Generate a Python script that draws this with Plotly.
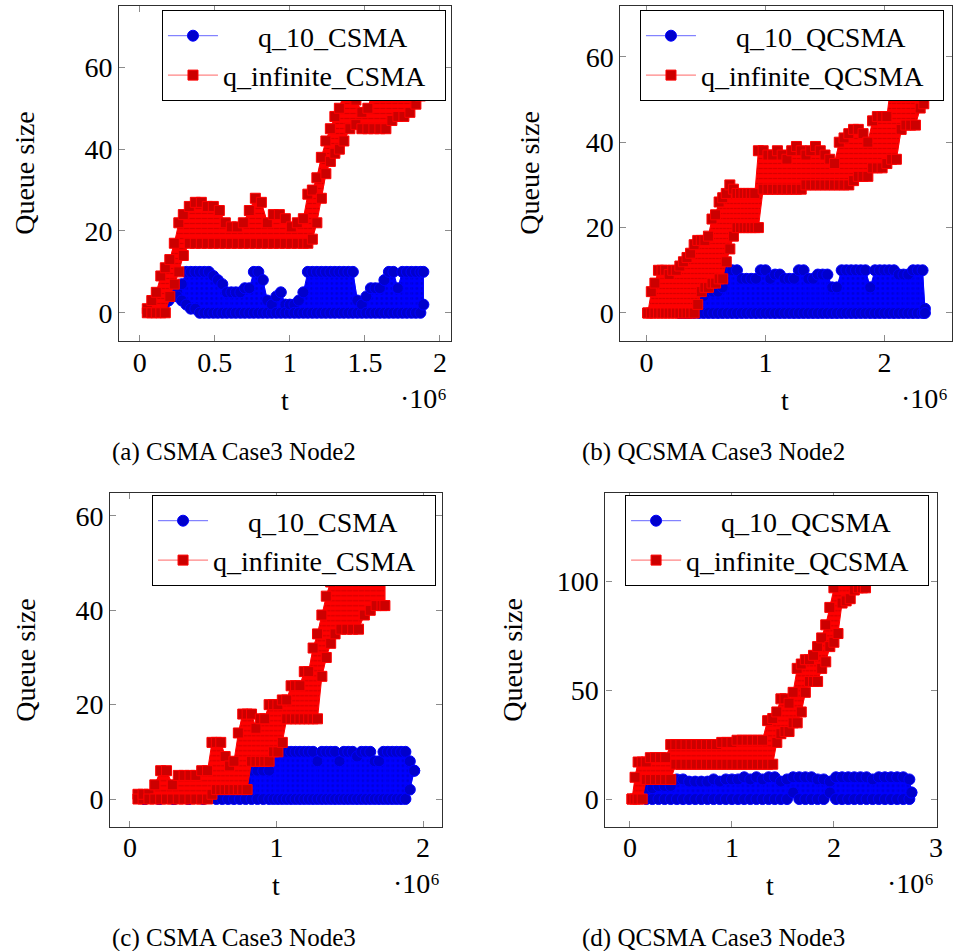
import plotly.graph_objects as go

# ---------------- data (t in units of 10^6) ----------------
# (a) CSMA Case3 Node2
a_red_t = [0.05, 0.08, 0.11, 0.14, 0.17, 0.20, 0.23, 0.26, 0.29, 0.33,
           0.37, 0.41, 0.45, 0.49, 0.53, 0.57, 0.61, 0.65, 0.69, 0.73,
           0.77, 0.81, 0.85, 0.89, 0.93, 0.97, 1.01, 1.05, 1.09, 1.12,
           1.15, 1.18, 1.21, 1.24, 1.27, 1.30, 1.33, 1.36, 1.40, 1.44,
           1.48, 1.52, 1.56, 1.60, 1.64, 1.68, 1.72, 1.76, 1.80, 1.84,
           1.87]
a_red_hi = [1, 3, 5, 9, 11, 13, 17, 22, 24, 26,
            27, 27, 26, 26, 25, 22, 21, 21, 22, 25,
            28, 27, 22, 24, 24, 23, 21, 22, 23, 29,
            30, 33, 38, 42, 45, 48, 50, 54, 55, 52,
            49, 50, 55, 57, 58, 60, 62, 63, 65, 67,
            68]
a_red_lo = [0, 0, 0, 0, 0, 4, 7, 10, 14, 17,
            17, 17, 17, 17, 17, 17, 17, 17, 17, 17,
            17, 17, 17, 17, 17, 17, 17, 17, 17, 17,
            18, 22, 28, 34, 37, 39, 40, 42, 45, 46,
            45, 45, 45, 45, 45, 47, 48, 48, 49, 51,
            53]
a_blue_t = [0.13, 0.16, 0.19, 0.22, 0.25, 0.28, 0.31, 0.34, 0.37, 0.40,
            0.43, 0.46, 0.49, 0.52, 0.55, 0.58, 0.61, 0.64, 0.67, 0.70,
            0.73, 0.76, 0.79, 0.82, 0.85, 0.88, 0.91, 0.94, 0.97, 1.00,
            1.03, 1.06, 1.09, 1.12, 1.15, 1.18, 1.21, 1.24, 1.27, 1.30,
            1.33, 1.36, 1.39, 1.42, 1.45, 1.48, 1.51, 1.54, 1.57, 1.60,
            1.63, 1.66, 1.69, 1.72, 1.75, 1.78, 1.81, 1.84, 1.87, 1.89]
a_blue_hi = [1, 2, 3, 4, 5, 7, 10, 10, 10, 10,
             10, 10, 9, 8, 7, 5, 5, 5, 5, 6,
             6, 10, 10, 8, 3, 2, 4, 5, 2, 2,
             2, 3, 5, 10, 10, 10, 10, 10, 10, 10,
             10, 10, 10, 10, 3, 2, 4, 6, 6, 6,
             8, 10, 10, 6, 10, 10, 10, 10, 10, 10]
a_blue_lo = [1, 2, 3, 4, 4, 3, 2, 1, 1, 0,
             0, 0, 0, 0, 0, 0, 0, 0, 0, 0,
             0, 0, 0, 0, 0, 0, 0, 0, 0, 0,
             0, 0, 0, 0, 0, 0, 0, 0, 0, 0,
             0, 0, 0, 0, 0, 0, 0, 0, 0, 0,
             0, 0, 0, 0, 0, 0, 0, 0, 0, 2]

# (b) QCSMA Case3 Node2
b_red_t = [0.01, 0.04, 0.07, 0.10, 0.13, 0.16, 0.19, 0.22, 0.25, 0.28,
           0.31, 0.34, 0.37, 0.40, 0.43, 0.46, 0.49, 0.52, 0.55, 0.58,
           0.61, 0.64, 0.67, 0.70, 0.73, 0.76, 0.79, 0.82, 0.85, 0.88,
           0.91, 0.94, 0.98, 1.02, 1.06, 1.10, 1.14, 1.18, 1.22, 1.26,
           1.30, 1.34, 1.38, 1.42, 1.46, 1.50, 1.54, 1.58, 1.62, 1.66,
           1.70, 1.74, 1.78, 1.82, 1.86, 1.90, 1.94, 1.98, 2.02, 2.06,
           2.10, 2.14, 2.18, 2.22, 2.26, 2.30, 2.33]
b_red_hi = [0, 5, 7, 10, 10, 10, 9, 10, 10, 11,
            12, 13, 14, 16, 17, 17, 17, 18, 22, 23,
            26, 27, 28, 30, 29, 28, 28, 28, 28, 28,
            28, 38, 38, 37, 37, 38, 37, 36, 38, 39,
            38, 37, 38, 39, 38, 37, 36, 35, 40, 41,
            42, 43, 43, 42, 40, 45, 46, 46, 46, 55,
            56, 58, 60, 62, 63, 64, 65]
b_red_lo = [0, 0, 0, 0, 0, 0, 0, 0, 0, 0,
            0, 0, 0, 0, 2, 5, 6, 6, 7, 7,
            8, 8, 12, 15, 18, 20, 20, 20, 20, 20,
            20, 20, 29, 29, 29, 29, 29, 29, 29, 29,
            29, 30, 30, 30, 30, 30, 30, 30, 30, 30,
            30, 31, 32, 32, 32, 34, 34, 34, 35, 36,
            36, 43, 44, 44, 44, 48, 49]
b_blue_t = [0.28, 0.32, 0.36, 0.40, 0.44, 0.48, 0.52, 0.56, 0.60, 0.64,
            0.68, 0.72, 0.76, 0.80, 0.84, 0.88, 0.92, 0.96, 1.00, 1.04,
            1.08, 1.12, 1.16, 1.20, 1.24, 1.28, 1.32, 1.36, 1.40, 1.44,
            1.48, 1.52, 1.56, 1.60, 1.64, 1.68, 1.72, 1.76, 1.80, 1.84,
            1.88, 1.92, 1.96, 2.00, 2.04, 2.08, 2.12, 2.16, 2.20, 2.24,
            2.28, 2.32, 2.34]
b_blue_hi = [0, 0, 0, 1, 1, 4, 5, 5, 5, 6,
             10, 10, 10, 8, 8, 8, 8, 10, 10, 8,
             9, 9, 8, 8, 8, 10, 10, 8, 8, 9,
             9, 9, 6, 6, 10, 10, 10, 10, 10, 10,
             6, 10, 10, 10, 10, 10, 9, 9, 9, 10,
             10, 10, 1]
b_blue_lo = [0, 0, 0, 0, 0, 0, 0, 0, 0, 0,
             0, 0, 0, 0, 0, 0, 0, 0, 0, 0,
             0, 0, 0, 0, 0, 0, 0, 0, 0, 0,
             0, 0, 0, 0, 0, 0, 0, 0, 0, 0,
             0, 0, 0, 0, 0, 0, 0, 0, 0, 0,
             0, 0, 0]

# (c) CSMA Case3 Node3
c_red_t = [0.055, 0.09, 0.13, 0.17, 0.21, 0.25, 0.29, 0.33, 0.37, 0.41,
           0.45, 0.49, 0.53, 0.56, 0.59, 0.62, 0.65, 0.68, 0.71, 0.74,
           0.77, 0.80, 0.83, 0.86, 0.89, 0.92, 0.95, 0.98, 1.01, 1.04,
           1.07, 1.10, 1.13, 1.16, 1.19, 1.22, 1.25, 1.28, 1.31, 1.34,
           1.37, 1.40, 1.44, 1.48, 1.52, 1.56, 1.60, 1.64, 1.68, 1.72,
           1.74]
c_red_hi = [1, 1, 1, 3, 6, 6, 3, 5, 5, 5,
            5, 6, 6, 12, 12, 12, 9, 7, 8, 14,
            18, 18, 18, 15, 17, 17, 20, 20, 20, 21,
            21, 24, 24, 24, 27, 27, 32, 35, 39, 43,
            46, 50, 54, 55, 56, 57, 58, 58, 59, 59,
            59]
c_red_lo = [0, 0, 0, 0, 0, 0, 0, 0, 0, 0,
            0, 0, 0, 1, 2, 2, 2, 2, 2, 2,
            2, 2, 8, 8, 8, 8, 8, 10, 10, 12,
            17, 17, 17, 17, 17, 17, 17, 17, 26, 30,
            33, 35, 36, 36, 36, 36, 39, 40, 41, 41,
            41]
c_blue_t = [0.10, 0.20, 0.30, 0.40, 0.50, 0.59, 0.63, 0.67, 0.71, 0.75,
            0.79, 0.83, 0.87, 0.91, 0.95, 0.98, 1.01, 1.04, 1.07, 1.10,
            1.13, 1.16, 1.19, 1.22, 1.25, 1.28, 1.31, 1.34, 1.37, 1.40,
            1.43, 1.46, 1.49, 1.52, 1.55, 1.58, 1.61, 1.64, 1.67, 1.70,
            1.73, 1.76, 1.79, 1.82, 1.85, 1.88, 1.91, 1.94]
c_blue_hi = [0, 0, 0, 0, 1, 2, 2, 2, 3, 3,
             4, 6, 6, 6, 6, 10, 10, 10, 10, 10,
             10, 10, 10, 10, 10, 8, 10, 10, 10, 10,
             8, 10, 10, 10, 9, 10, 10, 10, 8, 8,
             10, 10, 10, 10, 10, 10, 8, 6]
c_blue_lo = [0, 0, 0, 0, 0, 0, 0, 0, 0, 0,
             0, 0, 0, 0, 0, 0, 0, 0, 0, 0,
             0, 0, 0, 0, 0, 0, 0, 0, 0, 0,
             0, 0, 0, 0, 0, 0, 0, 0, 0, 0,
             0, 0, 0, 0, 0, 0, 2, 6]

# (d) QCSMA Case3 Node3
d_red_t = [0.02, 0.05, 0.08, 0.12, 0.16, 0.20, 0.25, 0.30, 0.35, 0.40,
           0.45, 0.50, 0.55, 0.60, 0.65, 0.70, 0.75, 0.80, 0.85, 0.90,
           0.95, 1.00, 1.05, 1.10, 1.15, 1.20, 1.25, 1.30, 1.35, 1.40,
           1.44, 1.48, 1.52, 1.56, 1.60, 1.64, 1.68, 1.72, 1.76, 1.80,
           1.84, 1.88, 1.92, 1.96, 2.00, 2.04, 2.08, 2.12, 2.16, 2.20,
           2.24, 2.28, 2.31]
d_red_hi = [0, 10, 17, 17, 17, 19, 19, 19, 19, 25,
            25, 25, 25, 25, 25, 25, 25, 25, 25, 26,
            26, 26, 27, 27, 27, 27, 27, 27, 36, 37,
            40, 46, 46, 44, 49, 60, 62, 64, 64, 66,
            70, 74, 80, 88, 97, 104, 110, 115, 118, 122,
            125, 127, 128]
d_red_lo = [0, 0, 0, 0, 9, 9, 9, 9, 9, 9,
            16, 16, 16, 16, 16, 16, 16, 16, 16, 16,
            16, 16, 16, 16, 16, 16, 16, 16, 16, 16,
            26, 30, 31, 31, 35, 35, 40, 49, 54, 54,
            54, 60, 63, 70, 72, 76, 90, 91, 92, 96,
            97, 97, 97]
d_blue_t = [0.16, 0.22, 0.28, 0.34, 0.40, 0.46, 0.52, 0.58, 0.64, 0.70,
            0.76, 0.82, 0.88, 0.94, 1.00, 1.06, 1.12, 1.18, 1.24, 1.30,
            1.36, 1.42, 1.48, 1.54, 1.60, 1.66, 1.72, 1.78, 1.84, 1.90,
            1.96, 2.02, 2.08, 2.14, 2.20, 2.26, 2.32, 2.38, 2.44, 2.50,
            2.56, 2.62, 2.68, 2.74, 2.76]
d_blue_hi = [5, 5, 6, 6, 6, 9, 9, 8, 8, 8,
             8, 9, 8, 9, 9, 9, 10, 9, 10, 9,
             10, 10, 8, 9, 10, 10, 10, 10, 9, 9,
             8, 10, 10, 10, 10, 10, 10, 9, 10, 10,
             10, 10, 10, 9, 3]
d_blue_lo = [0, 0, 0, 0, 0, 0, 0, 0, 0, 0,
             0, 0, 0, 0, 0, 0, 0, 0, 0, 0,
             0, 0, 0, 0, 3, 0, 0, 0, 0, 0,
             3, 0, 0, 0, 0, 0, 0, 0, 0, 0,
             0, 0, 0, 0, 3]

# axis ticks / labels
a_xticks = [0, 0.5, 1, 1.5, 2]
a_xticktext = ["0", "0.5", "1", "1.5", "2"]
b_xticks = [0, 1, 2]
c_xticks = [0, 1, 2]
d_xticks = [0, 1, 2, 3]
abc_yticks = [0, 20, 40, 60]
d_yticks = [0, 50, 100]

captions = ["(a) CSMA Case3 Node2", "(b) QCSMA Case3 Node2",
            "(c) CSMA Case3 Node3", "(d) QCSMA Case3 Node3"]
names_csma = ["q_10_CSMA", "q_infinite_CSMA"]
names_qcsma = ["q_10_QCSMA", "q_infinite_QCSMA"]
scale_label = "\u00b710\u2076"

# ---------------- styling ----------------
W, H = 959, 951
FONT = "Liberation Serif, Times New Roman, serif"
FS = 28
NB = "\u00a0"

BLUE = "#0000ff"
BLUE_MARK = "#0000cc"
RED = "#ff0000"
RED_MARK = "#cc0000"

fig = go.Figure()


def add_series(t, lo, hi, name, color, mfill, symbol, size, xa, ya, legend, pat_fg, pat_shape):
    tl = list(t)
    fig.add_trace(go.Scatter(
        x=tl + tl[::-1], y=list(hi) + list(lo)[::-1],
        fill="toself", fillcolor=color, mode="lines",
        line=dict(color=color, width=1),
        fillpattern=dict(shape=pat_shape, fgcolor=pat_fg, bgcolor=color,
                         size=5, solidity=0.25),
        hoverinfo="skip", showlegend=False, xaxis=xa, yaxis=ya))
    xs, ys = [], []
    for i, (tt, l, h) in enumerate(zip(t, lo, hi)):
        xs += [tt, tt]
        ys += ([h, l] if i % 2 == 0 else [l, h])
    lc = "rgba(255,0,0,0.6)" if color == RED else "rgba(0,0,255,0.6)"
    fig.add_trace(go.Scatter(
        x=xs, y=ys, mode="lines+markers", name=name,
        line=dict(color=lc, width=1),
        marker=dict(symbol=symbol, size=size, color=mfill,
                    line=dict(color=color, width=1)),
        xaxis=xa, yaxis=ya, legend=legend))


panels = [
    dict(xa="x", ya="y", leg="legend", names=names_csma,
         blue=(a_blue_t, a_blue_lo, a_blue_hi), red=(a_red_t, a_red_lo, a_red_hi)),
    dict(xa="x2", ya="y2", leg="legend2", names=names_qcsma,
         blue=(b_blue_t, b_blue_lo, b_blue_hi), red=(b_red_t, b_red_lo, b_red_hi)),
    dict(xa="x3", ya="y3", leg="legend3", names=names_csma,
         blue=(c_blue_t, c_blue_lo, c_blue_hi), red=(c_red_t, c_red_lo, c_red_hi)),
    dict(xa="x4", ya="y4", leg="legend4", names=names_qcsma,
         blue=(d_blue_t, d_blue_lo, d_blue_hi), red=(d_red_t, d_red_lo, d_red_hi)),
]

for p in panels:
    bt, bl, bh = p["blue"]
    rt, rl, rh = p["red"]
    add_series(bt, bl, bh, NB * 5 + p["names"][0], BLUE, BLUE_MARK, "circle", 11,
               p["xa"], p["ya"], p["leg"], "#0000b0", ".")
    add_series(rt, rl, rh, p["names"][1] + NB * 2, RED, RED_MARK, "square", 10,
               p["xa"], p["ya"], p["leg"], "#b00000", "-")

# pixel boxes of the four plot areas: (left, right, top, bottom)
boxes = [(120, 454, 6, 341), (624.3, 958.3, 6, 341),
         (111, 445, 493.3, 826.7), (609.3, 942.7, 493.3, 826.7)]
xranges = [[-0.137, 2.075], [-0.22, 2.57], [-0.1336, 2.131], [-0.24, 3.009]]
yranges = [[-6.9, 75.0], [-6.56, 71.9], [-5.87, 64.8], [-12.7, 140.4]]
xticks = [(a_xticks, a_xticktext), (b_xticks, [str(v) for v in b_xticks]),
          (c_xticks, [str(v) for v in c_xticks]), (d_xticks, [str(v) for v in d_xticks])]
yticks = [abc_yticks, abc_yticks, abc_yticks, d_yticks]

axis_common = dict(showline=True, linecolor="#303030", linewidth=1.2, mirror="ticks",
                   ticks="inside", ticklen=6, tickwidth=1, tickcolor="#8c8c8c",
                   showgrid=False, zeroline=False,
                   tickfont=dict(family=FONT, size=FS, color="black"))
lay = {}
for i, (l, r, t, b) in enumerate(boxes):
    sfx = "" if i == 0 else str(i + 1)
    tv, tt = xticks[i]
    lay["xaxis" + sfx] = dict(axis_common, domain=[l / W, r / W], range=xranges[i],
                              anchor="y" + sfx, tickvals=tv, ticktext=tt,
                              ticklabelstandoff=-4)
    lay["yaxis" + sfx] = dict(axis_common, domain=[1 - b / H, 1 - t / H], range=yranges[i],
                              anchor="x" + sfx, tickvals=yticks[i],
                              ticktext=[str(v) for v in yticks[i]])

# legends: top-left corner in pixels
leg_pos = [(163, 10), (644, 10), (153, 495), (629, 495)]
for i, (lx, ly) in enumerate(leg_pos):
    key = "legend" if i == 0 else "legend" + str(i + 1)
    lay[key] = dict(x=lx / W, y=1 - ly / H, xanchor="left", yanchor="top",
                    xref="paper", yref="paper",
                    bgcolor="white", bordercolor="black", borderwidth=1,
                    font=dict(family=FONT, size=FS, color="black"),
                    itemwidth=50, tracegroupgap=0)

ann = []
def px_ann(text, x, y, size=FS, xanchor="center", yanchor="middle", angle=0):
    ann.append(dict(text=text, x=x / W, y=1 - y / H, xref="paper", yref="paper",
                    showarrow=False, xanchor=xanchor, yanchor=yanchor, textangle=angle,
                    font=dict(family=FONT, size=size, color="black")))

# x labels "t" and scale "·10^6"
for (tx, ty, sx) in [(287, 400, 452), (790, 400, 956), (278, 885, 445), (775, 885, 942)]:
    px_ann("t", tx, ty)
    px_ann(scale_label, sx, ty - 2, xanchor="right")
# y labels
for (qx, qy) in [(25, 173), (533, 173), (25, 660), (515, 660)]:
    px_ann("Queue size", qx, qy, angle=-90)
# captions
for cap, (cx, cy) in zip(captions, [(235, 452), (718, 452), (235, 938), (718, 938)]):
    px_ann(cap, cx, cy, size=25)

fig.update_layout(width=W, height=H, margin=dict(l=0, r=0, t=0, b=0),
                  paper_bgcolor="white", plot_bgcolor="white",
                  annotations=ann, **lay)

fig.write_html("out.html")
